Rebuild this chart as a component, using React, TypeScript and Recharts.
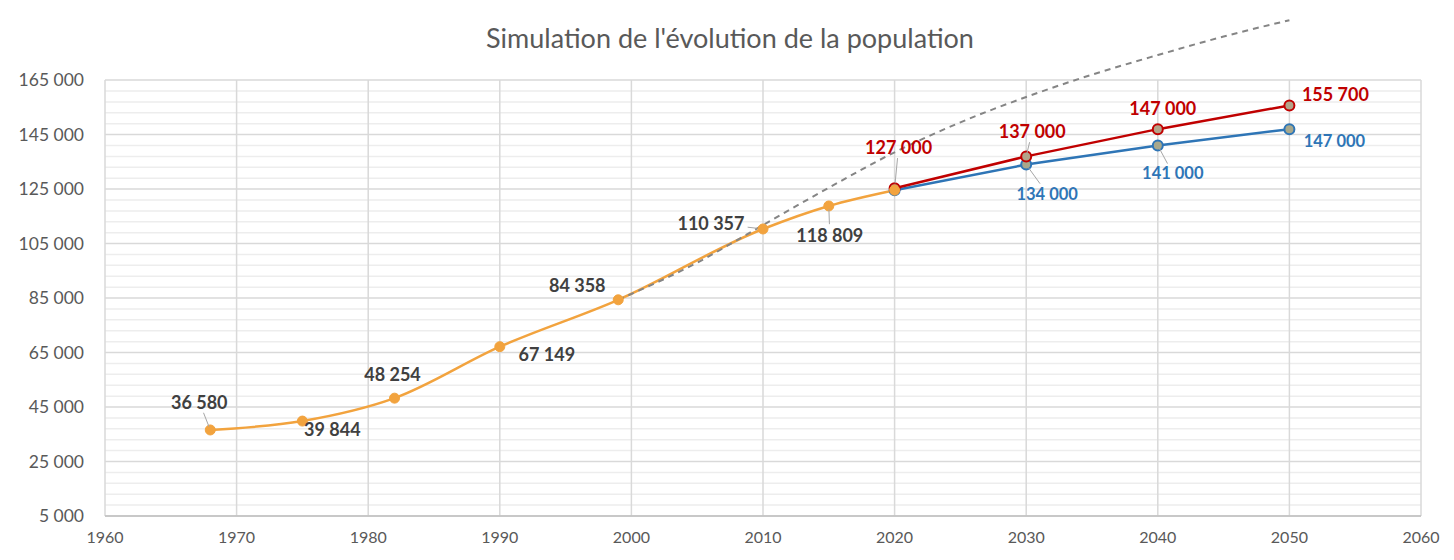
import React from 'react';
import { LineChart, Line, XAxis, YAxis, ReferenceLine, LabelList } from 'recharts';

// recensements (orange)
const histYears = [1968, 1975, 1982, 1990, 1999, 2010, 2015, 2020];
const histPop = [36580, 39844, 48254, 67149, 84358, 110357, 118809, 124600];
const histLabels = ['36 580', '39 844', '48 254', '67 149', '84 358', '110 357', '118 809', ''];

// projections
const projYears = [2020, 2030, 2040, 2050];
const highPop = [125300, 137000, 147000, 155700];
const highLabels = ['127 000', '137 000', '147 000', '155 700'];
const lowPop = [124600, 134000, 141000, 147000];
const lowLabels = ['', '134 000', '141 000', '147 000'];

// tendance (pointillés)
const trendYears = [1999, 2005, 2010, 2015, 2020, 2025, 2030, 2035, 2040, 2045, 2050];
const trendPop = [84358, 98000, 111800, 125500, 138500, 149500, 158800, 167000, 174200, 181000, 187000];

const xTicks = [1960, 1970, 1980, 1990, 2000, 2010, 2020, 2030, 2040, 2050, 2060];
const yTicks = [5000, 25000, 45000, 65000, 85000, 105000, 125000, 145000, 165000];

const Y_MIN = 5000;
const Y_MAX = 165000;
const minorTicks = Array.from({ length: 41 }, (_, i) => Y_MIN + i * 4000).filter((v) => !yTicks.includes(v));

// label placement: [dx, dy, leader]
const histPlace: [number, number, boolean][] = [
  [-11, -28, true], [30, 8, false], [-2, -24, false], [47, 7, false],
  [-41, -15, false], [-52, -6, true], [1, 29, true], [0, 0, false],
];
const highPlace: [number, number, boolean][] = [[4, -41, true], [6, -25, true], [5, -21, false], [46, -11, false]];
const lowPlace: [number, number, boolean][] = [[0, 0, false], [21, 29, true], [15, 28, true], [45, 12, false]];

const FONT = 'Lato, "Open Sans", sans-serif';
const COLORS = {
  orange: '#F2A33E',
  red: '#C00000',
  blue: '#2E75B6',
  trend: '#858585',
  text: '#404040',
  axis: '#595959',
  major: '#d9d9d9',
  minor: '#ededed',
};

const toRows = (xs: number[], ys: number[]) => xs.map((year, i) => ({ year, pop: ys[i] }));
const histData = toRows(histYears, histPop);
const highData = toRows(projYears, highPop);
const lowData = toRows(projYears, lowPop);
const trendData = toRows(trendYears, trendPop);

const fmt = (v: number) => String(v).replace(/\B(?=(\d{3})+(?!\d))/g, ' ');

function makeLabel(labels: string[], place: [number, number, boolean][], color: string, size: number) {
  return (props: any) => {
    const { x, y, index } = props;
    const text = labels[index];
    if (!text) return null;
    const [dx, dy, leader] = place[index];
    const cx = x + dx;
    const cy = y + dy;
    let line = null;
    if (leader) {
      const hw = (text.length * size * 0.55) / 2 + 2;
      const hh = size * 0.6;
      const t = Math.min(dx ? hw / Math.abs(dx) : 1, dy ? hh / Math.abs(dy) : 1);
      line = (
        <line x1={x + dx * 0.12} y1={y + dy * 0.12} x2={x + dx * (1 - t)} y2={y + dy * (1 - t)} stroke="#a6a6a6" strokeWidth={1} />
      );
    }
    return (
      <g>
        {line}
        <text x={cx} y={cy} textAnchor="middle" dominantBaseline="central" fill={color} fontSize={size} fontWeight={700} fontFamily={FONT}>
          {text}
        </text>
      </g>
    );
  };
}

export default function App() {
  return (
    <div style={{ position: 'absolute', left: 0, top: 0, width: 1454, height: 560, background: '#fff' }}>
      <div
        style={{
          position: 'absolute', left: 0, top: 22, width: 1460, textAlign: 'center',
          fontFamily: FONT, fontSize: 27, lineHeight: '32px', color: COLORS.axis,
        }}
      >
        Simulation de l'évolution de la population
      </div>
      <LineChart width={1454} height={560} margin={{ top: 12, right: 33, bottom: 14, left: 0 }}>
        {minorTicks.map((v) => (
          <ReferenceLine key={`m${v}`} y={v} stroke={COLORS.minor} strokeWidth={1.5} />
        ))}
        {yTicks.map((v) => (
          <ReferenceLine key={`h${v}`} y={v} stroke={COLORS.major} strokeWidth={1.5} />
        ))}
        {xTicks.map((v) => (
          <ReferenceLine key={`v${v}`} segment={[{ x: v, y: Y_MIN }, { x: v, y: Y_MAX }]} stroke={COLORS.major} strokeWidth={1.5} />
        ))}
        <XAxis
          type="number"
          dataKey="year"
          domain={[1960, 2060]}
          ticks={xTicks}
          tickSize={0}
          tickMargin={16}
          axisLine={{ stroke: '#bfbfbf', strokeWidth: 1.5 }}
          tick={{ fill: COLORS.axis, fontSize: 16, fontFamily: FONT }}
          allowDuplicatedCategory={false}
        />
        <YAxis
          type="number"
          domain={[Y_MIN, 190000]}
          ticks={yTicks}
          width={105}
          tickSize={0}
          tickMargin={21}
          axisLine={false}
          tickFormatter={fmt}
          tick={{ fill: COLORS.axis, fontSize: 17.5, fontFamily: FONT }}
        />
        <Line
          data={lowData}
          dataKey="pop"
          type="linear"
          stroke={COLORS.blue}
          strokeWidth={2.5}
          dot={{ r: 5, fill: '#a8a88c', stroke: COLORS.blue, strokeWidth: 2 }}
          isAnimationActive={false}
        >
          <LabelList dataKey="pop" content={makeLabel(lowLabels, lowPlace, COLORS.blue, 16.5)} />
        </Line>
        <Line
          data={highData}
          dataKey="pop"
          type="linear"
          stroke={COLORS.red}
          strokeWidth={2.5}
          dot={{ r: 5, fill: '#b3a48a', stroke: COLORS.red, strokeWidth: 2 }}
          isAnimationActive={false}
        >
          <LabelList dataKey="pop" content={makeLabel(highLabels, highPlace, COLORS.red, 18)} />
        </Line>
        <Line
          data={histData}
          dataKey="pop"
          type="monotone"
          stroke={COLORS.orange}
          strokeWidth={2.5}
          dot={{ r: 5, fill: COLORS.orange, stroke: COLORS.orange, strokeWidth: 1 }}
          isAnimationActive={false}
        >
          <LabelList dataKey="pop" content={makeLabel(histLabels, histPlace, COLORS.text, 18)} />
        </Line>
        <Line
          data={trendData}
          dataKey="pop"
          type="monotone"
          stroke={COLORS.trend}
          strokeWidth={2}
          strokeDasharray="6 5"
          dot={false}
          isAnimationActive={false}
        />
      </LineChart>
    </div>
  );
}
